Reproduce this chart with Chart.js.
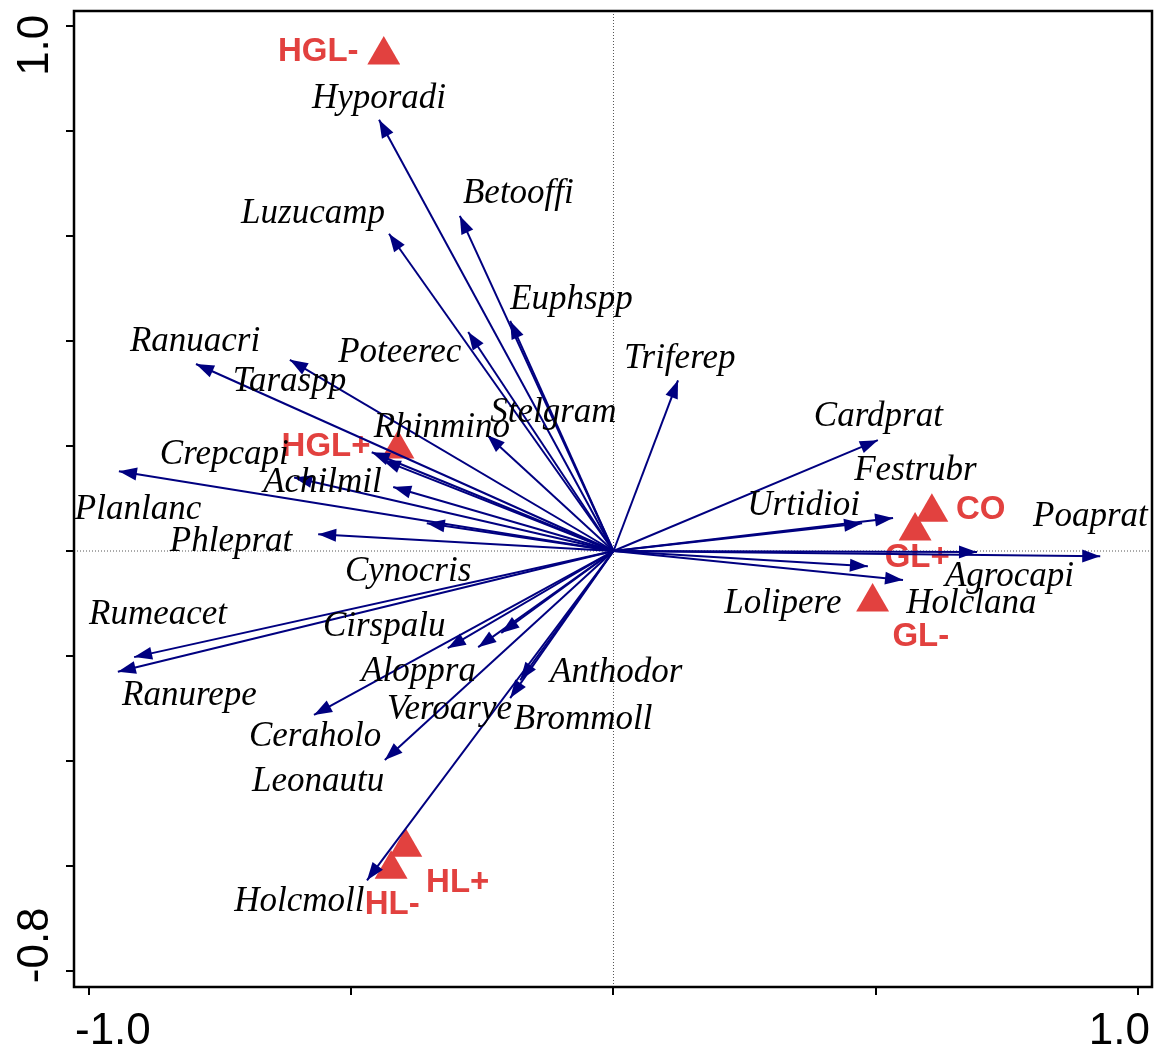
<!DOCTYPE html>
<html>
<head>
<meta charset="utf-8">
<title>Species and treatment biplot</title>
<script src="https://cdn.jsdelivr.net/npm/chart.js@4.4.1/dist/chart.umd.min.js"></script>
<style>
    html, body { margin: 0; padding: 0; background: #fff; }
    #wrap { width: 1161px; height: 1052px; }
</style>
</head>
<body>
<div id="wrap"><canvas id="biplot" width="1161" height="1052"></canvas></div>
<script>
// Species arrows: tip coordinates on axis 1 / axis 2
const arrowX = [-0.447, -0.293, -0.428, -0.197, -0.277, -0.796, -0.617, -0.241, -0.461, -0.440,
                -0.943, -0.609, -0.420, -0.356, -0.563,
                0.123, 0.504, 0.474, 0.533, 0.928, 0.693, 0.485, 0.552,
                -0.914, -0.945, -0.316, -0.258, -0.214, -0.571, -0.436, -0.178, -0.197, -0.470];
const arrowY = [0.821, 0.638, 0.604, 0.438, 0.417, 0.356, 0.364, 0.221, 0.188, 0.173,
                0.152, 0.140, 0.122, 0.053, 0.032,
                0.325, 0.211, 0.053, 0.063, -0.010, -0.002, -0.029, -0.055,
                -0.202, -0.230, -0.185, -0.183, -0.156, -0.312, -0.398, -0.246, -0.280, -0.627];

// Species labels and where they sit (axis units, left edge / middle)
const speciesNames = ['Hyporadi', 'Betooffi', 'Luzucamp', 'Euphspp', 'Ranuacri', 'Poteerec', 'Taraspp',
                      'Stelgram', 'Rhinmino', 'Crepcapi', 'Achilmil', 'Planlanc', 'Phleprat',
                      'Triferep', 'Cardprat', 'Festrubr', 'Urtidioi', 'Poaprat', 'Agrocapi', 'Holclana', 'Lolipere',
                      'Cynocris', 'Rumeacet', 'Cirspalu', 'Aloppra', 'Anthodor', 'Ranurepe', 'Veroarye',
                      'Brommoll', 'Ceraholo', 'Leonautu', 'Holcmoll'];
const speciesLabelX = [-0.575, -0.287, -0.710, -0.197, -0.922, -0.525, -0.726,
                       -0.235, -0.457, -0.865, -0.668, -1.027, -0.846,
                       0.020, 0.382, 0.459, 0.255, 0.800, 0.632, 0.558, 0.211,
                       -0.512, -1.000, -0.554, -0.481, -0.121, -0.937, -0.432,
                       -0.190, -0.695, -0.689, -0.723];
const speciesLabelY = [0.860, 0.680, 0.642, 0.478, 0.398, 0.377, 0.322,
                       0.263, 0.234, 0.184, 0.129, 0.078, 0.017,
                       0.366, 0.255, 0.152, 0.087, 0.066, -0.050, -0.101, -0.101,
                       -0.040, -0.122, -0.145, -0.229, -0.231, -0.276, -0.303,
                       -0.322, -0.354, -0.440, -0.668];

// Treatment centroids (triangles)
const siteNames = ['HGL-', 'HGL+', 'CO', 'GL+', 'GL-', 'HL+', 'HL-'];
const siteX = [-0.438, -0.411, 0.607, 0.575, 0.494, -0.396, -0.424];
const siteY = [0.944, 0.194, 0.074, 0.038, -0.097, -0.564, -0.606];
const siteLabelX = [-0.563, -0.548, 0.700, 0.579, 0.586, -0.297, -0.422];
const siteLabelY = [0.950, 0.198, 0.078, -0.013, -0.164, -0.632, -0.674];

// Axes
const xRange = [-1.0286, 1.0267];
const yRange = [-0.830, 1.028];
const xTicks = [-1.0, -0.5, 0, 0.5, 1.0];
const yTicks = [-0.8, -0.6, -0.4, -0.2, 0, 0.2, 0.4, 0.6, 0.8, 1.0];
const xTickLabels = [-1.0, 1.0];
const yTickLabels = [-0.8, 1.0];

const NAVY = '#000080';
const RED = '#e2413f';

function drawArrowHead(ctx, from, to) {
    const ang = Math.atan2(to.y - from.y, to.x - from.x);
    const len = 18, half = 6.5;
    ctx.save();
    ctx.fillStyle = NAVY;
    ctx.translate(to.x, to.y);
    ctx.rotate(ang);
    ctx.beginPath();
    ctx.moveTo(0, 0);
    ctx.lineTo(-len, -half);
    ctx.lineTo(-len, half);
    ctx.closePath();
    ctx.fill();
    ctx.restore();
}

function drawSiteLabels(chart) {
    const { ctx, scales: { x, y } } = chart;
    ctx.save();
    ctx.fillStyle = RED;
    ctx.font = 'bold 33px "Liberation Sans", Arial, sans-serif';
    ctx.textAlign = 'center';
    ctx.textBaseline = 'middle';
    siteNames.forEach((name, i) => {
        ctx.fillText(name, x.getPixelForValue(siteLabelX[i]), y.getPixelForValue(siteLabelY[i]));
    });
    ctx.restore();
}

function drawSpeciesLabels(chart) {
    const { ctx, scales: { x, y } } = chart;
    ctx.save();
    ctx.fillStyle = '#000';
    ctx.font = 'italic 35px "Liberation Serif", "Times New Roman", serif';
    ctx.textAlign = 'left';
    ctx.textBaseline = 'middle';
    speciesNames.forEach((name, i) => {
        ctx.fillText(name, x.getPixelForValue(speciesLabelX[i]), y.getPixelForValue(speciesLabelY[i]));
    });
    ctx.restore();
}

function drawTickLabels(chart) {
    const { ctx, chartArea: a, scales: { x, y } } = chart;
    ctx.save();
    ctx.fillStyle = '#000';
    ctx.font = '44px "Liberation Sans", Arial, sans-serif';
    ctx.textBaseline = 'alphabetic';

    // bottom axis: end labels pulled slightly outward of the tick
    xTickLabels.forEach(v => {
        const first = v === Math.min(...xTickLabels);
        ctx.textAlign = first ? 'left' : 'right';
        ctx.fillText(v.toFixed(1), x.getPixelForValue(v) + (first ? -14 : 12), a.bottom + 57);
    });

    // left axis: rotated, reading upwards
    yTickLabels.forEach(v => {
        const lowest = v === Math.min(...yTickLabels);
        ctx.save();
        ctx.translate(a.left - 26, y.getPixelForValue(v) + (lowest ? 12 : -11));
        ctx.rotate(-Math.PI / 2);
        ctx.textAlign = lowest ? 'left' : 'right';
        ctx.fillText(v.toFixed(1), 0, 0);
        ctx.restore();
    });
    ctx.restore();
}

const biplotDecor = {
    id: 'biplotDecor',
    beforeDatasetsDraw(chart) {
        const { ctx, chartArea: a, scales: { x, y } } = chart;
        const x0 = x.getPixelForValue(0);
        const y0 = y.getPixelForValue(0);
        ctx.save();
        ctx.strokeStyle = '#555';
        ctx.lineWidth = 1;
        ctx.setLineDash([1, 2]);
        ctx.beginPath();
        ctx.moveTo(x0, a.top);
        ctx.lineTo(x0, a.bottom);
        ctx.moveTo(a.left, y0);
        ctx.lineTo(a.right, y0);
        ctx.stroke();
        ctx.restore();
    },
    afterDatasetDraw(chart, args) {
        const ds = chart.data.datasets[args.index];
        if (ds.kind === 'sites') {
            drawSiteLabels(chart);
        } else if (ds.kind === 'arrow') {
            const pts = args.meta.data;
            drawArrowHead(chart.ctx, pts[0], pts[1]);
        }
    },
    afterDatasetsDraw(chart) {
        drawSpeciesLabels(chart);
    },
    afterDraw(chart) {
        const { ctx, chartArea: a } = chart;
        ctx.save();
        ctx.strokeStyle = '#000';
        ctx.lineWidth = 2.5;
        ctx.strokeRect(a.left, a.top, a.right - a.left, a.bottom - a.top);
        ctx.restore();
        drawTickLabels(chart);
    }
};

const arrowDatasets = arrowX.map((tx, i) => ({
    kind: 'arrow',
    data: [{ x: 0, y: 0 }, { x: tx, y: arrowY[i] }],
    showLine: true,
    borderColor: NAVY,
    borderWidth: 2,
    pointRadius: 0,
    pointHoverRadius: 0,
    order: 1
}));

const siteDataset = {
    kind: 'sites',
    data: siteX.map((sx, i) => ({ x: sx, y: siteY[i] })),
    pointStyle: 'triangle',
    pointRadius: 19,
    pointHoverRadius: 19,
    backgroundColor: RED,
    borderWidth: 0,
    order: 2
};

const tickGrid = {
    display: true,
    drawOnChartArea: false,
    drawTicks: true,
    tickLength: 8,
    color: '#000',
    lineWidth: 2
};

new Chart(document.getElementById('biplot'), {
    type: 'scatter',
    data: { datasets: [siteDataset, ...arrowDatasets] },
    options: {
        responsive: false,
        animation: false,
        events: [],
        layout: { autoPadding: false, padding: { top: 11, right: 9, left: 0, bottom: 0 } },
        plugins: {
            legend: { display: false },
            tooltip: { enabled: false }
        },
        scales: {
            x: {
                type: 'linear',
                min: xRange[0],
                max: xRange[1],
                afterBuildTicks: s => { s.ticks = xTicks.map(v => ({ value: v })); },
                afterFit: s => { s.height = 65; },
                ticks: { display: false },
                grid: tickGrid,
                border: { display: false }
            },
            y: {
                type: 'linear',
                min: yRange[0],
                max: yRange[1],
                afterBuildTicks: s => { s.ticks = yTicks.map(v => ({ value: v })); },
                afterFit: s => { s.width = 74; },
                ticks: { display: false },
                grid: tickGrid,
                border: { display: false }
            }
        }
    },
    plugins: [biplotDecor]
});
</script>
</body>
</html>
